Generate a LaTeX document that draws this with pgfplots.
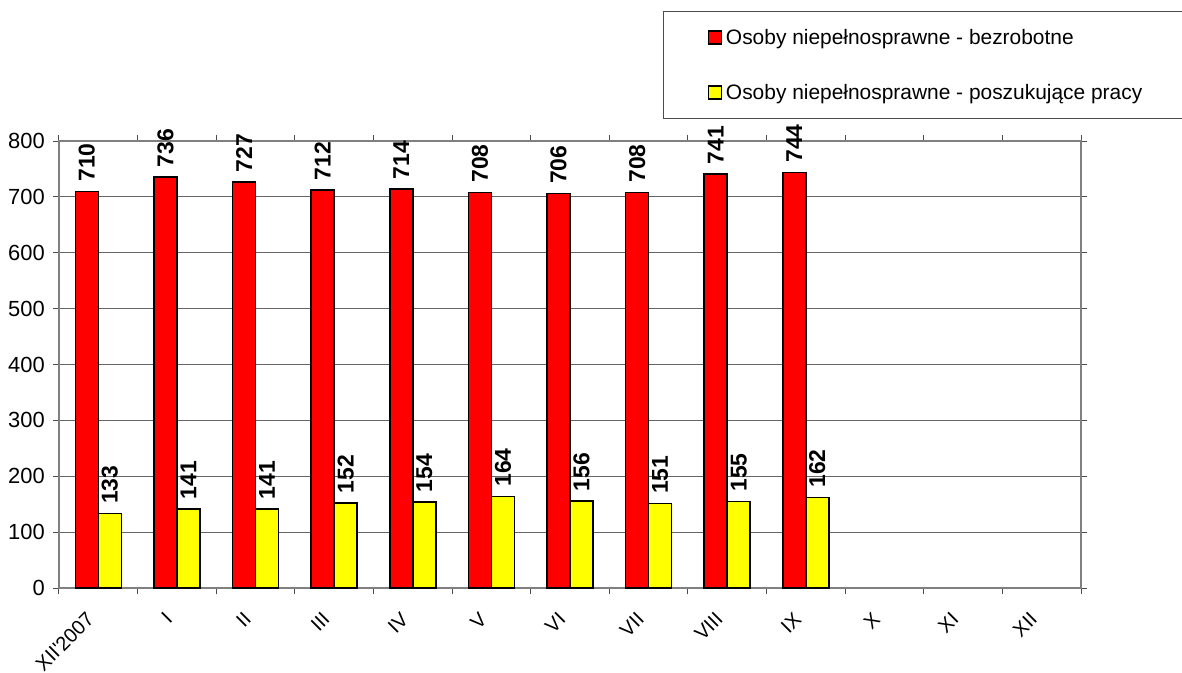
\documentclass[border=0pt]{standalone}
\usepackage{fontspec}
\setmainfont{Liberation Sans}
\usepackage{pgfplots}
\pgfplotsset{compat=1.18}
\definecolor{barred}{RGB}{255,0,0}
\definecolor{baryel}{RGB}{255,255,0}
\begin{document}
\begin{tikzpicture}
\path[use as bounding box] (-59bp,-85bp) rectangle (1123bp,588bp);
\begin{axis}[
  at={(0,0)}, anchor=south west,
  scale only axis, width=1022bp, height=447bp,
  xmin=-0.5, xmax=12.5, ymin=0, ymax=800,
  ybar=0pt, bar width=23bp,
  xtick={0,...,12},
  xticklabels={XII\textquotesingle 2007,I,II,III,IV,V,VI,VII,VIII,IX,X,XI,XII},
  minor xtick={-0.5,0.5,...,12.5},
  ytick={0,100,...,800},
  ymajorgrids,
  grid style={black!60, line width=0.8bp},
  axis line style={black!50, line width=1.5bp},
  tick align=outside, major tick length=6bp, minor tick length=6bp,
  major x tick style={draw=none},
  tick style={black!70, line width=1bp},
  /pgf/number format/assume math mode=true,
  yticklabel style={font=\fontsize{22}{26}\selectfont, anchor=east, inner sep=2bp, xshift=-6bp},
  xticklabel style={font=\fontsize{20}{24}\selectfont, xshift=-13bp, yshift=-14bp, rotate=45, anchor=north east, inner sep=2bp},
  nodes near coords,
  nodes near coords style={rotate=90, anchor=west, font=\bfseries\fontsize{23}{26}\selectfont, inner xsep=9bp, inner ysep=0bp},
  legend style={at={(rel axis cs:0.591,1.291)}, anchor=north west, draw=black!70, line width=1bp,
    font=\fontsize{21}{25}\selectfont, inner xsep=44bp, inner ysep=16bp, row sep=34bp,
    /tikz/every odd column/.append style={column sep=2bp}},
  legend cell align=left,
  legend image code/.code={\draw[#1, line width=1.5bp] (0bp,-6.5bp) rectangle (13bp,6.5bp);},
]
\addplot[fill=barred, draw=black, line width=1.5bp] coordinates {
(0,710) (1,736) (2,727) (3,712) (4,714) (5,708) (6,706) (7,708) (8,741) (9,744)};
\addplot[fill=baryel, draw=black, line width=1.5bp] coordinates {
(0,133) (1,141) (2,141) (3,152) (4,154) (5,164) (6,156) (7,151) (8,155) (9,162)};
\legend{Osoby niepełnosprawne - bezrobotne, Osoby niepełnosprawne - poszukujące pracy}
\end{axis}
\end{tikzpicture}
\end{document}
